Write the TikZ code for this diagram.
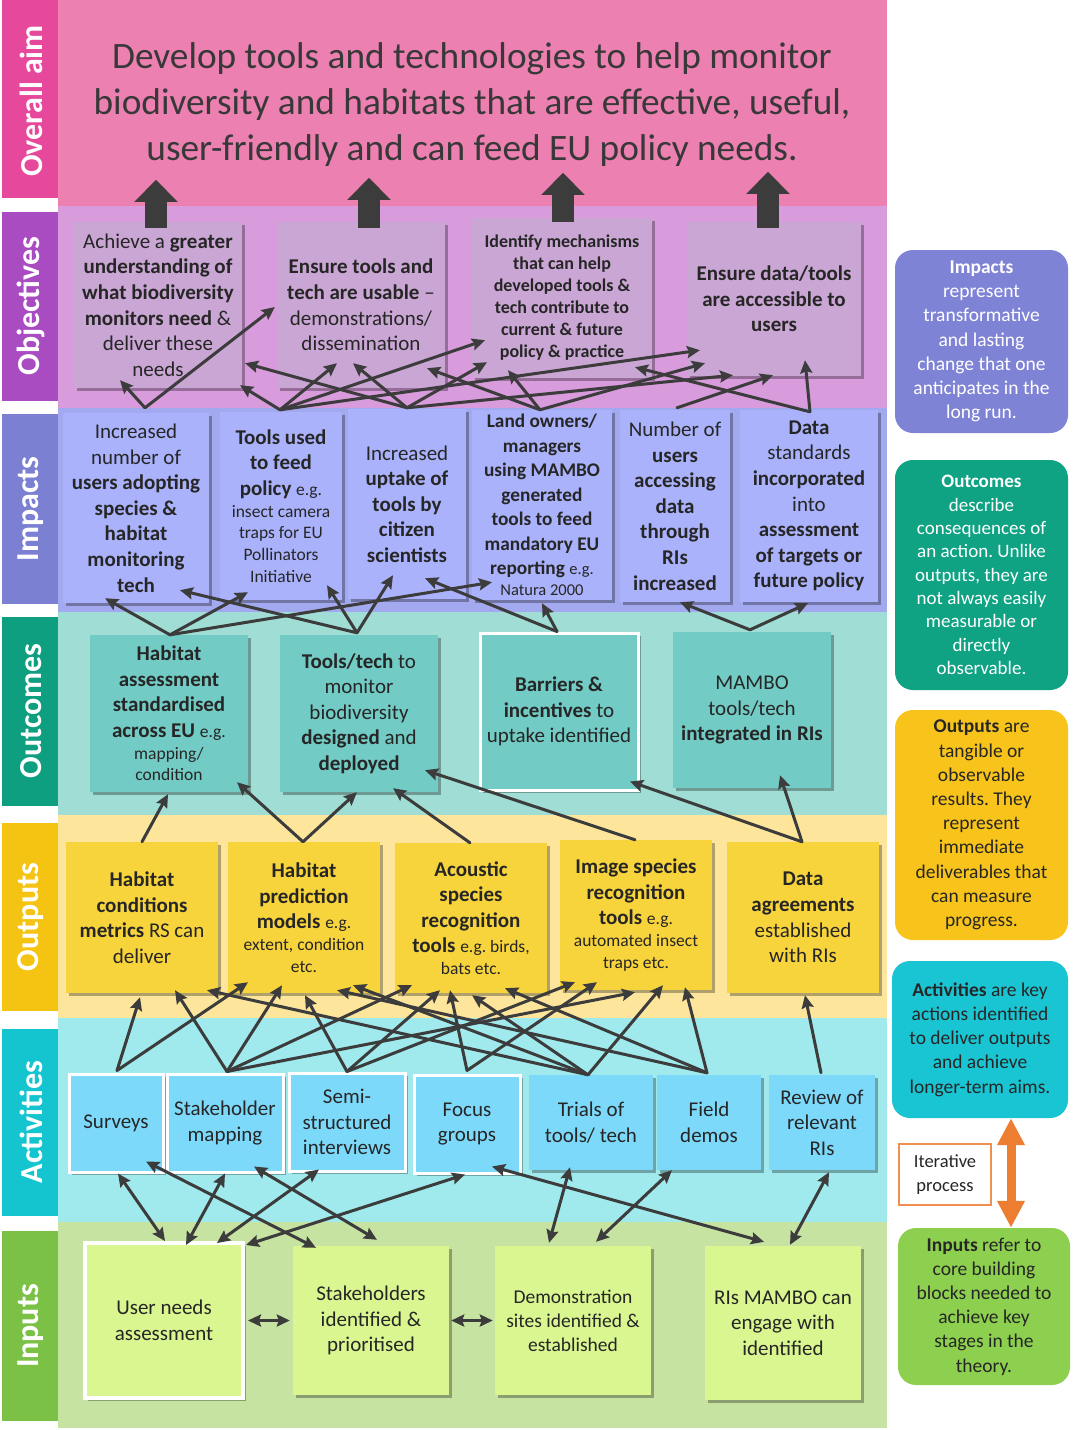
\documentclass[tikz,border=0pt]{standalone}
\usepackage{fontspec}
\setmainfont{Carlito}
\usetikzlibrary{arrows.meta,shadows}
\setlength{\parindent}{0pt}
\setlength{\parskip}{0pt}
\frenchspacing
\definecolor{aimtab}{HTML}{E6489B}
\definecolor{aimbg}{HTML}{EC80B0}
\definecolor{objtab}{HTML}{A94CC2}
\definecolor{objbg}{HTML}{D89BDC}
\definecolor{objbox}{HTML}{CAA6D4}
\definecolor{imptab}{HTML}{7C80D2}
\definecolor{impbg}{HTML}{A2A9EE}
\definecolor{impbox}{HTML}{AAB2FB}
\definecolor{outctab}{HTML}{0E9E80}
\definecolor{outcbg}{HTML}{A0DDD4}
\definecolor{outcbox}{HTML}{72CBC4}
\definecolor{outptab}{HTML}{F5C311}
\definecolor{outpbg}{HTML}{FDE69B}
\definecolor{outpbox}{HTML}{F8D43C}
\definecolor{acttab}{HTML}{14C5D0}
\definecolor{actbg}{HTML}{A0EAEE}
\definecolor{actbox}{HTML}{7DD9FA}
\definecolor{inptab}{HTML}{7BC146}
\definecolor{inpbg}{HTML}{C6E3A1}
\definecolor{inpbox}{HTML}{D9F690}
\definecolor{impleg}{HTML}{7F83D6}
\definecolor{outcleg}{HTML}{0FA384}
\definecolor{outpleg}{HTML}{F8C41B}
\definecolor{actleg}{HTML}{1AC5D3}
\definecolor{inpleg}{HTML}{8DCF4E}
\definecolor{iterorange}{HTML}{ED7D31}
\definecolor{arrowgray}{HTML}{3C3C3C}
\definecolor{txt}{HTML}{262626}
\newcommand{\smalltxt}{\fontsize{17.5}{21.7}\selectfont}
\newcommand{\mkbox}[7]{%
  \pgfmathsetmacro{\bw}{#4-#2}\pgfmathsetmacro{\bh}{#5-#3}%
  \pgfmathsetmacro{\bcx}{(#2+#4)/2}\pgfmathsetmacro{\bcy}{(#3+#5)/2}%
  \pgfmathsetmacro{\btw}{#4-#2-6}%
  \node[#6, minimum width=\bw pt, minimum height=\bh pt, text width=\btw pt] (#1) at (\bcx,\bcy) {#7};}
\begin{document}
\begin{tikzpicture}[x=1pt,y=-1pt,
  shad/.style={drop shadow={shadow xshift=2.5pt,shadow yshift=-2.5pt,opacity=0.3,fill=black}},
  bxbase/.style={rectangle, inner sep=0pt, align=flush center, text=txt, font=\fontsize{21}{25.6}\selectfont, shad},
  wb/.style={draw=white, line width=3pt},
  legb/.style={rectangle, rounded corners=18pt, inner sep=0pt, align=flush center, text=txt, font=\fontsize{19.5}{24.2}\selectfont},
  tablab/.style={rotate=90, text=white, font=\fontsize{32}{36}\selectfont\bfseries, inner sep=0pt},
  arr/.style={draw=arrowgray, line width=3pt, line cap=round, -{Stealth[length=13pt,width=12pt,inset=2pt]}},
  darr/.style={draw=arrowgray, line width=3pt, {Stealth[length=13pt,width=12pt,inset=2pt]}-{Stealth[length=13pt,width=12pt,inset=2pt]}},
  bigup/.style={draw=arrowgray, line width=22pt, -{Triangle[length=22pt,width=42pt]}}
]
\useasboundingbox (0,0) rectangle (1075,1430);
\fill[white] (0,0) rectangle (1075,1430);
% bands
\fill[aimbg] (58,0) rectangle (887,206);
\fill[objbg] (58,206) rectangle (887,408);
\fill[impbg] (58,408) rectangle (887,612);
\fill[outcbg] (58,612) rectangle (887,815);
\fill[outpbg] (58,815) rectangle (887,1018);
\fill[actbg] (58,1018) rectangle (887,1222);
\fill[inpbg] (58,1222) rectangle (887,1428);
% tabs
\fill[aimtab] (2,0) rectangle (58,198);
\fill[objtab] (2,212) rectangle (58,401);
\fill[imptab] (2,414) rectangle (58,604);
\fill[outctab] (2,617) rectangle (58,806);
\fill[outptab] (2,823) rectangle (58,1011);
\fill[acttab] (2,1029) rectangle (58,1216);
\fill[inptab] (2,1231) rectangle (58,1421);
\node[tablab] (tAim) at (31,101) {Overall aim};
\node[tablab] (tObj) at (31,306) {Objectives};
\node[tablab] (tImp) at (31,509) {Impacts};
\node[tablab] (tOutc) at (31,711) {Outcomes};
\node[tablab] (tOutp) at (31,917) {Outputs};
\node[tablab] (tAct) at (31,1122) {Activities};
\node[tablab] (tInp) at (31,1326) {Inputs};
% title
\node[align=flush center, text width=820pt, inner sep=0pt, text={black!78}, font=\fontsize{37.3}{46}\selectfont] (title) at (472,105)
 {Develop tools and technologies to help monitor\\ biodiversity and habitats that are effective, useful,\\ user-friendly and can feed EU policy needs.};
% objectives
\mkbox{O1}{74}{222}{242}{388}{bxbase,fill=objbox}{Achieve a \textbf{greater}\\ \textbf{understanding of}\\ \textbf{what biodiversity}\\ \textbf{monitors need} \&\\ deliver these\\ needs}
\mkbox{O2}{277}{222}{445}{388}{bxbase,fill=objbox}{\textbf{Ensure tools and}\\ \textbf{tech are usable} --\\ demonstrations/\\ dissemination}
\mkbox{O3}{472}{218}{652}{378}{bxbase,fill=objbox,font=\fontsize{18}{22}\selectfont\bfseries}{Identify mechanisms\\ that can help\\ developed tools \&\\ tech contribute to\\ current \& future\\ policy \& practice}
\mkbox{O4}{687}{222}{861}{376}{bxbase,fill=objbox}{\textbf{Ensure data/tools}\\ \textbf{are accessible to}\\ \textbf{users}}
% impacts
\mkbox{I1}{63}{413}{209}{603}{bxbase,fill=impbox}{Increased\\ number of\\ \textbf{users adopting}\\ \textbf{species \&}\\ \textbf{habitat}\\ \textbf{monitoring}\\ \textbf{tech}}
\mkbox{I2}{220}{412}{342}{600}{bxbase,fill=impbox}{{\textbf{Tools used}\\ \textbf{to feed}\\ \textbf{policy} {\smalltxt e.g.}\par}{\smalltxt insect camera\\ traps for EU\\ Pollinators\\ Initiative\par}}
\mkbox{I3}{348}{409}{466}{599}{bxbase,fill=impbox}{Increased\\ \textbf{uptake of}\\ \textbf{tools by}\\ \textbf{citizen}\\ \textbf{scientists}}
\mkbox{I4}{472}{410}{612}{600}{bxbase,fill=impbox,font=\fontsize{19.3}{24.5}\selectfont}{{\textbf{Land owners/}\\ \textbf{managers}\\ \textbf{using MAMBO}\\ \textbf{generated}\\ \textbf{tools to feed}\\ \textbf{mandatory EU}\\ \textbf{reporting} {\fontsize{16.5}{20}\selectfont e.g.}\par}{\fontsize{16.5}{21}\selectfont Natura 2000\par}}
\mkbox{I5}{620}{410}{730}{602}{bxbase,fill=impbox}{Number of\\ \textbf{users}\\ \textbf{accessing}\\ \textbf{data}\\ \textbf{through}\\ \textbf{RIs}\\ \textbf{increased}}
\mkbox{I6}{740}{410}{878}{602}{bxbase,fill=impbox}{\textbf{Data}\\ standards\\ \textbf{incorporated}\\ into\\ \textbf{assessment}\\ \textbf{of targets or}\\ \textbf{future policy}}
% outcomes
\mkbox{Oc1}{90}{635}{248}{792}{bxbase,fill=outcbox}{{\textbf{Habitat}\\ \textbf{assessment}\\ \textbf{standardised}\\ \textbf{across EU} {\smalltxt e.g.}\par}{\smalltxt mapping/\\ condition\par}}
\mkbox{Oc2}{280}{635}{438}{792}{bxbase,fill=outcbox}{\textbf{Tools/tech} to\\ monitor\\ biodiversity\\ \textbf{designed} and\\ \textbf{deployed}}
\mkbox{Oc3}{480}{633}{638}{790}{bxbase,fill=outcbox,wb}{\textbf{Barriers \&}\\ \textbf{incentives} to\\ uptake identified}
\mkbox{Oc4}{673}{632}{831}{788}{bxbase,fill=outcbox}{MAMBO\\ tools/tech\\ \textbf{integrated in RIs}}
% outputs
\mkbox{Op1}{66}{842}{218}{993}{bxbase,fill=outpbox}{\textbf{Habitat}\\ \textbf{conditions}\\ \textbf{metrics} RS can\\ deliver}
\mkbox{Op2}{228}{842}{380}{993}{bxbase,fill=outpbox}{{\textbf{Habitat}\\ \textbf{prediction}\\ \textbf{models} {\smalltxt e.g.}\par}{\smalltxt extent, condition\\ etc.\par}}
\mkbox{Op3}{395}{843}{547}{993}{bxbase,fill=outpbox}{{\textbf{Acoustic}\\ \textbf{species}\\ \textbf{recognition}\\ \textbf{tools} {\smalltxt e.g. birds,}\par}{\smalltxt bats etc.\par}}
\mkbox{Op4}{560}{840}{712}{990}{bxbase,fill=outpbox}{{\textbf{Image species}\\ \textbf{recognition}\\ \textbf{tools} {\smalltxt e.g.}\par}{\smalltxt automated insect\\ traps etc.\par}}
\mkbox{Op5}{727}{842}{879}{993}{bxbase,fill=outpbox}{\textbf{Data}\\ \textbf{agreements}\\ established\\ with RIs}
% activities
\mkbox{A1}{69}{1074}{163}{1172}{bxbase,fill=actbox,wb}{Surveys}
\mkbox{A2}{167}{1074}{283}{1172}{bxbase,fill=actbox,wb}{Stakeholder\\ mapping}
\mkbox{A3}{289}{1073}{405}{1171}{bxbase,fill=actbox,wb}{Semi-\\ structured\\ interviews}
\mkbox{A4}{414}{1075}{520}{1173}{bxbase,fill=actbox,wb}{Focus\\ groups}
\mkbox{A5}{529}{1075}{653}{1170}{bxbase,fill=actbox}{Trials of\\ tools/ tech}
\mkbox{A6}{657}{1075}{761}{1170}{bxbase,fill=actbox}{Field\\ demos}
\mkbox{A7}{769}{1075}{875}{1170}{bxbase,fill=actbox}{Review of\\ relevant\\ RIs}
% inputs
\mkbox{In1}{85}{1243}{243}{1398}{bxbase,fill=inpbox,draw=white,line width=4pt}{User needs\\ assessment}
\mkbox{In2}{293}{1246}{449}{1395}{bxbase,fill=inpbox}{Stakeholders\\ identified \&\\ prioritised}
\mkbox{In3}{495}{1246}{651}{1395}{bxbase,fill=inpbox,font=\fontsize{19.5}{24}\selectfont}{Demonstration\\ sites identified \&\\ established}
\mkbox{In4}{705}{1246}{861}{1400}{bxbase,fill=inpbox}{RIs MAMBO can\\ engage with\\ identified}
% legend
\mkbox{ImpL}{895}{250}{1068}{433}{legb,fill=impleg,text=white}{\textbf{Impacts}\\ represent\\ transformative\\ and lasting\\ change that one\\ anticipates in the\\ long run.}
\mkbox{OutcL}{895}{460}{1068}{690}{legb,fill=outcleg,text=white,font=\fontsize{19}{23.3}\selectfont}{\textbf{Outcomes}\\ describe\\ consequences of\\ an action. Unlike\\ outputs, they are\\ not always easily\\ measurable or\\ directly\\ observable.}
\mkbox{OutpL}{895}{710}{1068}{940}{legb,fill=outpleg}{\textbf{Outputs} are\\ tangible or\\ observable\\ results. They\\ represent\\ immediate\\ deliverables that\\ can measure\\ progress.}
\mkbox{ActL}{892}{961}{1068}{1118}{legb,fill=actleg}{\textbf{Activities} are key\\ actions identified\\ to deliver outputs\\ and achieve\\ longer-term aims.}
\mkbox{InpL}{898}{1228}{1070}{1385}{legb,fill=inpleg}{\textbf{Inputs} refer to\\ core building\\ blocks needed to\\ achieve key\\ stages in the\\ theory.}
\mkbox{Iter}{899}{1144}{991}{1205}{legb,rounded corners=0pt,fill=white,draw=iterorange!85,line width=1.5pt,font=\fontsize{18.5}{24}\selectfont}{Iterative\\ process}
\draw[line width=9pt, iterorange, {Triangle[length=27pt,width=26pt]}-{Triangle[length=27pt,width=26pt]}] ([shift={(31,0)}]ActL.south) -- ([shift={(27,0)}]InpL.north);
% big arrows to overall aim
\draw[bigup] ([shift={(-2,6)}]O1.north) -- ++(0,-48);
\draw[bigup] ([shift={(8,6)}]O2.north) -- ++(0,-50);
\draw[bigup] ([shift={(1,4)}]O3.north) -- ++(0,-49);
\draw[bigup] ([shift={(-6,6)}]O4.north) -- ++(0,-56);
% impacts -> objectives
\draw[arr] ([shift={(9,-5)}]I1.north) -- ([shift={(-38,-8)}]O1.south);
\draw[arr] ([shift={(9,-5)}]I1.north) -- ([shift={(-2,2)}]O2.west);
\draw[arr] ([shift={(-1,-2)}]I2.north) -- ([shift={(82,-3)}]O1.south);
\draw[arr] ([shift={(0,-1)}]I3.north) -- ([shift={(87,-25)}]O1.south);
\draw[arr] ([shift={(-1,-2)}]I2.north) -- ([shift={(-24,-25)}]O2.south);
\draw[arr] ([shift={(0,-1)}]I3.north) -- ([shift={(-8,-25)}]O2.south);
\draw[arr] ([shift={(-2,0)}]I4.north) -- ([shift={(66,-20)}]O2.south);
\draw[arr] ([shift={(-1,-2)}]I2.north) -- ([shift={(-77,-38)}]O3.south);
\draw[arr] ([shift={(0,-1)}]I3.north) -- ([shift={(-75,-16)}]O3.south);
\draw[arr] ([shift={(-2,0)}]I4.north) -- ([shift={(-54,-8)}]O3.south);
\draw[arr] ([shift={(1,2)}]I6.north) -- ([shift={(73,-11)}]O3.south);
\draw[arr] ([shift={(-1,-2)}]I2.north) -- ([shift={(-74,-26)}]O4.south);
\draw[arr] ([shift={(-2,0)}]I4.north) -- ([shift={(-69,-13)}]O4.south);
\draw[arr] ([shift={(0,-1)}]I3.north) -- ([shift={(-41,-1)}]O4.south);
\draw[arr] ([shift={(2,-2)}]I5.north) -- ([shift={(-1,-1)}]O4.south);
\draw[arr] ([shift={(1,2)}]I6.north) -- ([shift={(31,-16)}]O4.south);
% outcomes -> impacts
\draw[arr] ([shift={(1,0)}]Oc1.north) -- ([shift={(-31,-5)}]I1.south);
\draw[arr] ([shift={(1,0)}]Oc1.north) -- ([shift={(-33,-8)}]I2.south);
\draw[arr] ([shift={(1,0)}]Oc1.north) -- ([shift={(-50,-18)}]I4.south);
\draw[arr] ([shift={(-2,-2)}]Oc2.north) -- ([shift={(44,-13)}]I1.south);
\draw[arr] ([shift={(-2,-2)}]Oc2.north) -- ([shift={(46,-15)}]I2.south);
\draw[arr] ([shift={(-2,-2)}]Oc2.north) -- ([shift={(-14,-24)}]I3.south);
\draw[arr] ([shift={(-2,0)}]Oc3.north) -- ([shift={(18,-21)}]I3.south);
\draw[arr] ([shift={(-2,0)}]Oc3.north) -- ([shift={(0,3)}]I4.south);
\draw[arr] ([shift={(-2,-2)}]Oc4.north) -- ([shift={(5,0)}]I5.south);
\draw[arr] ([shift={(-2,-2)}]Oc4.north) -- ([shift={(-1,1)}]I6.south);
% outputs -> outcomes
\draw[arr] (Op1.north) -- ([shift={(-1,2)}]Oc1.south);
\draw[arr] ([shift={(-1,0)}]Op2.north) -- ([shift={(68,-10)}]Oc1.south);
\draw[arr] ([shift={(-1,0)}]Op2.north) -- ([shift={(-2,0)}]Oc2.south);
\draw[arr] ([shift={(-1,0)}]Op3.north) -- ([shift={(34,-4)}]Oc2.south);
\draw[arr] ([shift={(-1,0)}]Op4.north) -- ([shift={(66,-22)}]Oc2.south);
\draw[arr] ([shift={(-1,0)}]Op5.north) -- ([shift={(71,-10)}]Oc3.south);
\draw[arr] ([shift={(-1,0)}]Op5.north) -- ([shift={(28,-13)}]Oc4.south);
% activities -> outputs
\draw[arr] ([shift={(1,-2)}]A1.north) -- ([shift={(-2,4)}]Op1.south);
\draw[arr] ([shift={(1,-2)}]A1.north) -- ([shift={(-56,-11)}]Op2.south);
\draw[arr] ([shift={(2,-1)}]A2.north) -- ([shift={(33,-3)}]Op1.south);
\draw[arr] ([shift={(2,-1)}]A2.north) -- ([shift={(-22,-8)}]Op2.south);
\draw[arr] ([shift={(2,-1)}]A2.north) -- ([shift={(-59,-8)}]Op3.south);
\draw[arr] ([shift={(2,-1)}]A2.north) -- ([shift={(-1,2)}]Op4.south);
\draw[arr] (A3.north) -- ([shift={(1,2)}]Op2.south);
\draw[arr] (A3.north) -- ([shift={(-31,-3)}]Op3.south);
\draw[arr] (A3.north) -- ([shift={(-61,-8)}]Op4.south);
\draw[arr] ([shift={(0,-3)}]A4.north) -- ([shift={(-21,-3)}]Op3.south);
\draw[arr] ([shift={(0,-3)}]A4.north) -- ([shift={(-39,-8)}]Op4.south);
\draw[arr] ([shift={(-3,0)}]A5.north) -- ([shift={(65,-3)}]Op1.south);
\draw[arr] ([shift={(-3,0)}]A5.north) -- ([shift={(49,-8)}]Op2.south);
\draw[arr] ([shift={(-3,0)}]A5.north) -- ([shift={(1,2)}]Op3.south);
\draw[arr] ([shift={(-3,0)}]A5.north) -- ([shift={(27,-5)}]Op4.south);
\draw[arr] ([shift={(-2,-2)}]A6.north) -- ([shift={(33,-3)}]Op2.south);
\draw[arr] ([shift={(-2,-2)}]A6.north) -- ([shift={(34,-5)}]Op3.south);
\draw[arr] ([shift={(-2,-2)}]A6.north) -- ([shift={(49,-3)}]Op4.south);
\draw[arr] ([shift={(-1,-2)}]A7.north) -- ([shift={(2,2)}]Op5.south);
% inputs <-> activities
\draw[darr] ([shift={(2,0)}]A1.south) -- ([shift={(1,0)}]In1.north);
\draw[darr] ([shift={(30,-12)}]A1.south) -- ([shift={(-55,2)}]In2.north);
\draw[darr] (A2.south) -- ([shift={(22,4)}]In1.north);
\draw[darr] ([shift={(29,-7)}]A2.south) -- ([shift={(6,-6)}]In2.north);
\draw[darr] ([shift={(-28,-3)}]A3.south) -- ([shift={(53,2)}]In1.north);
\draw[darr] ([shift={(-2,0)}]A4.south) -- ([shift={(82,4)}]In1.north);
\draw[darr] ([shift={(25,-8)}]A4.south) -- ([shift={(-19,-4)}]In4.north);
\draw[darr] ([shift={(-21,-3)}]A5.south) -- ([shift={(-24,-3)}]In3.north);
\draw[darr] ([shift={(-37,0)}]A6.south) -- ([shift={(23,-4)}]In3.north);
\draw[darr] ([shift={(7,2)}]A7.south) -- ([shift={(7,-1)}]In4.north);
\draw[darr] ([shift={(3,0)}]In1.east) -- ([shift={(-3,0)}]In2.west);
\draw[darr] ([shift={(2,0)}]In2.east) -- ([shift={(-2,0)}]In3.west);
\end{tikzpicture}
\end{document}
